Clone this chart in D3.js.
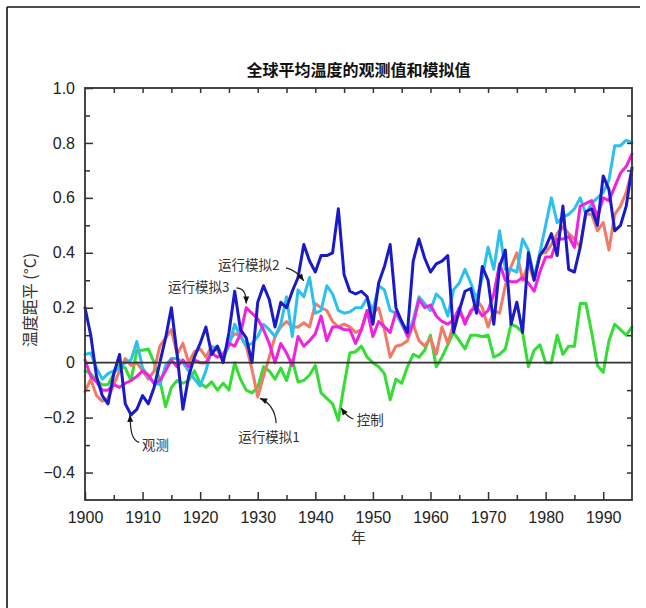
<!DOCTYPE html>
<html><head><meta charset="utf-8">
<script src="https://cdn.jsdelivr.net/npm/d3@7/dist/d3.min.js"></script>
<style>body{margin:0;background:#fff}</style>
</head><body>
<svg id="c" width="646" height="608"></svg>
<script>
// ---- data ----
const startYear = 1900;
const observed = [0.20,0.10,-0.05,-0.12,-0.15,-0.04,0.03,-0.15,-0.19,-0.17,
 -0.12,-0.15,-0.09,0.00,0.09,0.20,0.03,-0.17,-0.05,0.02,
 0.07,0.13,0.03,0.06,0.00,0.11,0.26,0.12,0.09,0.00,
 0.22,0.28,0.23,0.13,0.22,0.20,0.26,0.31,0.43,0.37,
 0.33,0.39,0.39,0.40,0.56,0.32,0.26,0.25,0.26,0.24,
 0.14,0.29,0.35,0.43,0.20,0.15,0.11,0.37,0.45,0.38,
 0.33,0.36,0.37,0.39,0.11,0.19,0.26,0.27,0.18,0.35,
 0.30,0.14,0.35,0.41,0.14,0.22,0.11,0.40,0.30,0.39,
 0.42,0.47,0.39,0.57,0.34,0.33,0.42,0.55,0.56,0.50,
 0.68,0.63,0.48,0.50,0.57,0.71];
const run1 = [-0.105,-0.06,-0.12,-0.14,-0.13,-0.08,-0.03,0.015,-0.01,0.00,
 -0.03,-0.06,-0.03,0.06,0.09,0.12,0.03,0.07,0.00,0.04,
 0.05,0.02,0.06,0.045,0.01,0.08,0.105,0.10,0.06,-0.025,
 -0.125,-0.05,0.02,0.095,0.13,0.15,0.13,0.13,0.145,0.13,
 0.215,0.20,0.19,0.15,0.13,0.14,0.13,0.11,0.12,0.19,
 0.18,0.20,0.12,0.02,0.06,0.065,0.08,0.14,0.08,0.06,
 0.09,0.03,0.13,0.07,0.14,0.18,0.155,0.18,0.23,0.20,
 0.13,0.19,0.18,0.28,0.35,0.40,0.30,0.36,0.30,0.40,
 0.40,0.43,0.47,0.495,0.47,0.45,0.42,0.54,0.54,0.48,
 0.51,0.41,0.54,0.57,0.62,0.70];
const run2 = [0.03,0.035,-0.02,-0.06,-0.04,-0.03,-0.02,0.00,0.01,0.077,
 -0.02,-0.05,-0.075,-0.08,-0.01,0.015,0.015,0.00,-0.03,-0.06,
 -0.085,-0.03,0.05,0.06,0.02,0.06,0.14,0.095,0.06,0.07,
 0.095,0.14,0.12,0.095,0.14,0.24,0.095,0.265,0.24,0.31,
 0.18,0.19,0.28,0.25,0.19,0.18,0.185,0.20,0.20,0.235,
 0.19,0.28,0.265,0.19,0.18,0.14,0.10,0.155,0.24,0.215,
 0.19,0.25,0.23,0.17,0.265,0.29,0.34,0.29,0.23,0.31,
 0.42,0.34,0.48,0.34,0.34,0.33,0.45,0.41,0.31,0.40,
 0.50,0.60,0.51,0.53,0.54,0.56,0.60,0.54,0.58,0.60,
 0.62,0.665,0.79,0.79,0.81,0.80];
const run3 = [0.01,-0.05,-0.07,-0.10,-0.10,-0.08,-0.09,-0.075,-0.065,-0.05,
 -0.03,-0.045,-0.075,-0.065,-0.03,0.01,-0.015,0.01,-0.015,0.01,
 0.00,0.00,0.035,0.02,0.03,0.07,0.06,0.105,0.20,0.18,
 0.16,0.12,0.07,0.00,0.07,0.035,-0.01,0.095,0.06,0.08,
 0.105,0.17,0.08,0.13,0.13,0.12,0.12,0.07,0.12,0.19,
 0.095,0.15,0.13,0.11,0.185,0.15,0.095,0.14,0.23,0.20,
 0.21,0.17,0.15,0.14,0.155,0.20,0.14,0.19,0.20,0.17,
 0.19,0.25,0.36,0.30,0.295,0.295,0.31,0.29,0.26,0.33,
 0.385,0.385,0.45,0.45,0.46,0.42,0.57,0.58,0.59,0.53,
 0.60,0.59,0.64,0.69,0.715,0.76];
const control = [-0.03,-0.04,-0.065,-0.08,-0.08,-0.04,-0.01,-0.02,-0.065,0.045,
 0.045,0.05,0.00,-0.065,-0.16,-0.09,-0.065,-0.075,-0.065,-0.03,
 -0.075,-0.09,-0.07,-0.10,-0.075,-0.10,0.00,-0.06,-0.10,-0.11,
 -0.09,-0.015,-0.03,-0.06,-0.02,-0.065,0.01,-0.07,-0.065,-0.045,
 -0.01,-0.11,-0.13,-0.15,-0.21,-0.08,0.035,0.04,0.06,0.02,
 0.00,-0.015,-0.04,-0.135,-0.06,-0.075,-0.015,0.03,0.02,0.045,
 0.10,-0.015,0.02,0.065,0.11,0.08,0.05,0.10,0.10,0.095,
 0.10,0.02,0.03,0.05,0.14,0.13,0.11,-0.015,0.045,0.065,
 0.00,0.00,0.10,0.03,0.06,0.06,0.215,0.215,0.11,-0.01,
 -0.035,0.08,0.14,0.12,0.10,0.13];
const xTickValues = [1900,1910,1920,1930,1940,1950,1960,1970,1980,1990];
const yTickValues = [-0.4,-0.2,0,0.2,0.4,0.6,0.8,1.0];
const yTickLabels = ["\u22120.4","\u22120.2","0","0.2","0.4","0.6","0.8","1.0"];
const titleText = "全球平均温度的观测值和模拟值";
const xLabel = "年";
const yLabel = "温度距平 (°C)";

// ---- layout ----
const svg = d3.select("#c");
const L = 85, R = 632, T = 88, B = 500;
const x = d3.scaleLinear().domain([1900, 1995]).range([L, R]);
const y = d3.scaleLinear().domain([-0.5, 1.0]).range([B, T]);

// outer frame (left + top)
svg.append("line").attr("x1",7).attr("y1",7).attr("x2",7).attr("y2",608).attr("stroke","#111").attr("stroke-width",1.6);
svg.append("line").attr("x1",7).attr("y1",7).attr("x2",640).attr("y2",7).attr("stroke","#111").attr("stroke-width",1.6);

// title
svg.append("text").attr("x",(L+R)/2).attr("y",76).attr("text-anchor","middle")
  .attr("font-family","'Noto Sans CJK SC', sans-serif").attr("font-weight","bold").attr("font-size",16)
  .attr("fill","#111").text(titleText);

// series
const series = [
  {name:"control", v:control, color:"#33dd33"},
  {name:"run1", v:run1, color:"#f07a66"},
  {name:"run2", v:run2, color:"#2cc0ee"},
  {name:"run3", v:run3, color:"#f022e0"},
  {name:"observed", v:observed, color:"#1a1ac8"}
];
const lineGen = d3.line().x((d,i)=>x(startYear+i)).y(d=>y(d));
const gPlot = svg.append("g");
series.forEach(s=>{
  gPlot.append("path").datum(s.v).attr("d",lineGen).attr("fill","none")
    .attr("stroke",s.color).attr("stroke-width",3).attr("stroke-linejoin","round").attr("stroke-linecap","round");
});

// zero line
svg.append("line").attr("x1",x(1900)).attr("x2",x(1995)).attr("y1",y(0)).attr("y2",y(0))
  .attr("stroke","#333").attr("stroke-width",1.6);

// axes
const axisColor = "#333";
const gAx = svg.append("g");
const axBottom = d3.axisBottom(x).tickValues(xTickValues).tickFormat(d3.format("d")).tickSizeInner(-8).tickSizeOuter(0).tickPadding(12);
gAx.append("g").attr("transform",`translate(0,${B})`).call(axBottom);
const axBottomMinor = d3.axisBottom(x).tickValues(d3.range(1905,1995,10)).tickFormat("").tickSizeInner(-5).tickSizeOuter(0);
gAx.append("g").attr("transform",`translate(0,${B})`).call(axBottomMinor);
const axTop = d3.axisTop(x).tickValues(d3.range(1905,1995,5)).tickFormat("").tickSizeInner(-5).tickSizeOuter(0);
gAx.append("g").attr("transform",`translate(0,${T})`).call(axTop);
const axLeft = d3.axisLeft(y).tickValues(yTickValues).tickFormat((d,i)=>yTickLabels[i]).tickSizeInner(-8).tickSizeOuter(0).tickPadding(10);
gAx.append("g").attr("transform",`translate(${L},0)`).call(axLeft);
const axLeftMinor = d3.axisLeft(y).tickValues([-0.3,-0.1,0.1,0.3,0.5,0.7,0.9]).tickFormat("").tickSizeInner(-5).tickSizeOuter(0);
gAx.append("g").attr("transform",`translate(${L},0)`).call(axLeftMinor);
const axRight = d3.axisRight(y).tickValues([-0.4,-0.3,-0.2,-0.1,0.1,0.2,0.3,0.4,0.5,0.6,0.7,0.8,0.9]).tickFormat("").tickSizeInner(-5).tickSizeOuter(0);
gAx.append("g").attr("transform",`translate(${R},0)`).call(axRight);
gAx.selectAll(".domain").remove();
gAx.selectAll("line").attr("stroke",axisColor).attr("stroke-width",1.5);
gAx.selectAll("text").attr("font-family","'Liberation Sans', Arial, sans-serif").attr("font-size",16).attr("fill","#222");
// frame
svg.append("rect").attr("x",L).attr("y",T).attr("width",R-L).attr("height",B-T)
  .attr("fill","none").attr("stroke",axisColor).attr("stroke-width",1.8);

// axis labels
svg.append("text").attr("x",(L+R)/2).attr("y",543).attr("text-anchor","middle")
  .attr("font-family","'Noto Sans CJK SC', sans-serif").attr("font-size",15).attr("fill","#333").text(xLabel);
svg.append("text").attr("transform",`translate(36,${(T+B)/2+6}) rotate(-90)`).attr("text-anchor","middle")
  .attr("font-family","'Noto Sans CJK SC', sans-serif").attr("font-size",16).attr("fill","#333").text(yLabel);

// annotations (data coordinates)
const annotations = [
  {text:"观测", tx:1909.9, ty:-0.30, path:[[1909.4,-0.29],[1907.9,-0.28],[1907.9,-0.235],[1907.8,-0.19]]},
  {text:"运行模拟1", tx:1926.6, ty:-0.27, path:[[1933.2,-0.22],[1933.0,-0.16],[1931.5,-0.14],[1930.4,-0.13]]},
  {text:"运行模拟2", tx:1923.1, ty:0.355, path:[[1934.9,0.345],[1936.5,0.338],[1937.4,0.315],[1938.0,0.298]]},
  {text:"运行模拟3", tx:1914.4, ty:0.275, path:[[1926.3,0.272],[1927.8,0.27],[1928.0,0.245],[1928.0,0.215]]},
  {text:"控制", tx:1947.2, ty:-0.21, path:[[1946.6,-0.205],[1945.6,-0.2],[1945.0,-0.18],[1944.5,-0.165]]}
];
const gA = svg.append("g");
annotations.forEach(a=>{
  gA.append("text").attr("x",x(a.tx)).attr("y",y(a.ty)).attr("dy","0.35em")
    .attr("font-family","'Noto Sans CJK SC', sans-serif").attr("font-size",13.5).attr("fill","#333").text(a.text);
  const p = a.path.map(q=>[x(q[0]),y(q[1])]);
  gA.append("path").attr("d",`M${p[0][0]},${p[0][1]} C${p[1][0]},${p[1][1]} ${p[2][0]},${p[2][1]} ${p[3][0]},${p[3][1]}`)
    .attr("fill","none").attr("stroke","#222").attr("stroke-width",1.2);
  const dx = p[3][0]-p[2][0], dy = p[3][1]-p[2][1];
  const ang = Math.atan2(dy,dx);
  const len = 7, w = 3;
  const bx = p[3][0]-len*Math.cos(ang), by = p[3][1]-len*Math.sin(ang);
  const nx = -Math.sin(ang)*w, ny = Math.cos(ang)*w;
  gA.append("path").attr("d",`M${p[3][0]},${p[3][1]} L${bx+nx},${by+ny} L${bx-nx},${by-ny} Z`).attr("fill","#111");
});
</script>
</body></html>
